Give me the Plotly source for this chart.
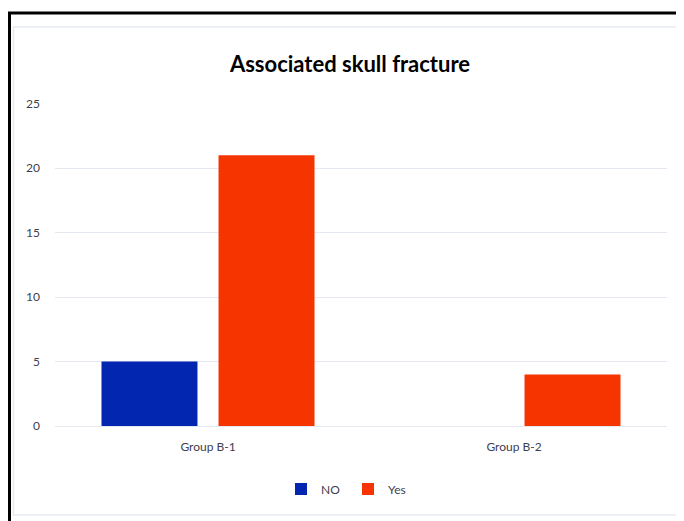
import plotly.graph_objects as go

categories = ["Group B-1", "Group B-2"]
no_values = [5, 0]
yes_values = [21, 4]
series_names = ["NO", "Yes"]
y_ticks = [0, 5, 10, 15, 20, 25]

OFF = 8  # default body margin of the page
W, H = 684 - OFF, 521 - OFF
L, R, T, B = 55 - OFF, 17, 103 - OFF, 95
pw, ph = W - L - R, H - T - B

def px(x):
    return (x - OFF - L) / pw

def py(y):
    return (H - B - (y - OFF)) / ph

fig = go.Figure()
fig.add_trace(go.Bar(x=categories, y=no_values, name=series_names[0],
                     marker=dict(color="#0226B0", line=dict(width=0))))
fig.add_trace(go.Bar(x=categories, y=yes_values, name=series_names[1],
                     marker=dict(color="#F53400", line=dict(width=0))))

shapes = [
    dict(type="rect", xref="paper", yref="paper", x0=px(13.5), x1=px(683), y0=py(515), y1=py(27),
         line=dict(color="#E6EAF0", width=1.5), fillcolor="rgba(0,0,0,0)", layer="below"),
    dict(type="rect", xref="paper", yref="paper", x0=px(9.5), x1=px(700), y0=py(540), y1=py(13),
         line=dict(color="#000000", width=3), fillcolor="rgba(0,0,0,0)"),
]

fig.update_layout(
    width=W, height=H,
    margin=dict(l=L, r=R, t=T, b=B),
    paper_bgcolor="white", plot_bgcolor="white",
    barmode="group", bargap=0.235, bargroupgap=0.18,
    title=dict(text="<b>Associated skull fracture</b>", x=px(350), xanchor="center",
               xref="paper", y=1 - (64 - OFF) / H, yanchor="middle",
               font=dict(family="Lato", size=22, color="#000000")),
    font=dict(family="Lato", size=12, color="#404050"),
    xaxis=dict(showgrid=False, showline=False, ticks="", ticklabelstandoff=12,
               tickfont=dict(size=12, color="#404050")),
    yaxis=dict(range=[0, 25.05], tickvals=y_ticks, showgrid=True, gridcolor="#E4E8F0",
               gridwidth=1.2, zeroline=True, zerolinecolor="#E4E8F0", zerolinewidth=1.2,
               showline=False, ticks="", ticklabelstandoff=14,
               tickfont=dict(size=12, color="#404050")),
    legend=dict(orientation="h", x=px(348), xanchor="center", y=py(489), yanchor="middle",
                font=dict(size=12, color="#404050"), itemwidth=30, traceorder="normal",
                tracegroupgap=0, entrywidth=22),
    shapes=shapes,
)

fig.write_html("out.html")
